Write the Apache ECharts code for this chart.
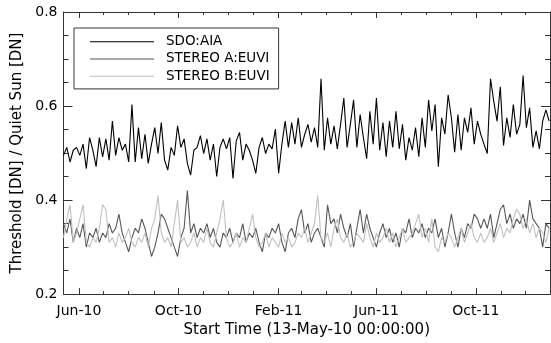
<!DOCTYPE html>
<html>
<head>
<meta charset="utf-8">
<script src="https://cdn.jsdelivr.net/npm/echarts@6/dist/echarts.min.js"></script>
<style>html,body{margin:0;padding:0;background:#fff}#c{width:551px;height:343px}</style>
</head>
<body>
<div id="c"></div>
<script>
// ---- data ----
const startDate = '2010-05-13';
const endDate = '2011-12-31';
const stepDays = 4;
const monthTicks = ['2010-06-01','2010-07-01','2010-08-01','2010-09-01','2010-10-01','2010-11-01','2010-12-01',
  '2011-01-01','2011-02-01','2011-03-01','2011-04-01','2011-05-01','2011-06-01','2011-07-01','2011-08-01',
  '2011-09-01','2011-10-01','2011-11-01','2011-12-01'];
const labelMonths = ['2010-06-01','2010-10-01','2011-02-01','2011-06-01','2011-10-01'];
const tickLabels = ['Jun-10','Oct-10','Feb-11','Jun-11','Oct-11'];
const seriesNames = ['SDO:AIA','STEREO A:EUVI','STEREO B:EUVI'];

const sdoAia = [
0.495,0.512,0.481,0.506,0.512,0.495,0.519,0.467,0.533,0.506,
0.471,0.533,0.492,0.530,0.485,0.568,0.495,0.533,0.506,0.519,
0.481,0.603,0.481,0.554,0.488,0.540,0.478,0.519,0.554,0.499,
0.565,0.485,0.464,0.512,0.495,0.558,0.512,0.530,0.478,0.453,
0.506,0.512,0.537,0.499,0.530,0.485,0.519,0.450,0.512,0.530,
0.509,0.533,0.446,0.526,0.544,0.485,0.519,0.506,0.485,0.457,
0.512,0.533,0.499,0.519,0.509,0.551,0.457,0.519,0.568,0.512,
0.565,0.519,0.575,0.512,0.540,0.561,0.523,0.554,0.512,0.658,
0.506,0.575,0.519,0.558,0.509,0.561,0.617,0.512,0.561,0.613,
0.512,0.582,0.533,0.488,0.589,0.519,0.617,0.506,0.565,0.492,
0.568,0.512,0.589,0.509,0.561,0.485,0.533,0.506,0.554,0.492,
0.575,0.512,0.613,0.547,0.603,0.471,0.575,0.540,0.624,0.575,
0.502,0.582,0.506,0.575,0.544,0.596,0.519,0.568,0.540,0.519,
0.499,0.658,0.610,0.568,0.641,0.516,0.575,0.533,0.603,0.540,
0.561,0.665,0.554,0.596,0.512,0.547,0.509,0.568,0.592,0.568
];
const stereoA = [
0.35,0.33,0.36,0.31,0.34,0.32,0.35,0.30,0.33,0.32,
0.34,0.31,0.33,0.32,0.35,0.33,0.34,0.37,0.33,0.31,
0.29,0.32,0.34,0.33,0.36,0.34,0.31,0.28,0.30,0.33,
0.37,0.36,0.34,0.32,0.30,0.28,0.32,0.34,0.42,0.33,
0.35,0.32,0.34,0.33,0.35,0.32,0.34,0.31,0.30,0.33,
0.32,0.34,0.31,0.33,0.32,0.35,0.31,0.33,0.32,0.34,
0.31,0.29,0.33,0.32,0.34,0.33,0.35,0.31,0.29,0.33,
0.34,0.32,0.36,0.38,0.33,0.35,0.31,0.33,0.34,0.32,
0.30,0.39,0.35,0.36,0.33,0.37,0.34,0.32,0.35,0.30,
0.34,0.38,0.33,0.37,0.34,0.32,0.30,0.33,0.35,0.32,
0.34,0.31,0.33,0.30,0.34,0.33,0.36,0.32,0.34,0.33,
0.35,0.32,0.34,0.33,0.36,0.32,0.34,0.30,0.33,0.37,
0.33,0.30,0.34,0.32,0.35,0.34,0.37,0.36,0.34,0.36,
0.34,0.37,0.32,0.35,0.38,0.39,0.35,0.37,0.34,0.36,
0.35,0.37,0.34,0.40,0.36,0.35,0.34,0.30,0.35,0.34
];
const stereoB = [
0.32,0.36,0.39,0.31,0.33,0.36,0.39,0.31,0.30,0.32,
0.31,0.34,0.39,0.38,0.31,0.32,0.30,0.33,0.31,0.32,
0.34,0.31,0.30,0.32,0.31,0.33,0.30,0.34,0.36,0.41,
0.33,0.31,0.32,0.30,0.35,0.40,0.31,0.32,0.30,0.31,
0.33,0.30,0.32,0.31,0.34,0.31,0.30,0.33,0.36,0.40,
0.32,0.30,0.31,0.33,0.30,0.32,0.31,0.34,0.37,0.32,
0.30,0.31,0.33,0.30,0.32,0.31,0.30,0.33,0.31,0.32,
0.30,0.31,0.33,0.32,0.34,0.31,0.33,0.35,0.41,0.32,
0.31,0.33,0.30,0.34,0.36,0.32,0.31,0.33,0.30,0.31,
0.33,0.32,0.31,0.35,0.32,0.30,0.33,0.31,0.32,0.34,
0.31,0.33,0.30,0.32,0.34,0.31,0.32,0.33,0.35,0.37,
0.32,0.34,0.31,0.36,0.30,0.29,0.32,0.31,0.33,0.32,
0.30,0.32,0.34,0.31,0.33,0.35,0.32,0.31,0.33,0.31,
0.32,0.34,0.31,0.33,0.35,0.32,0.34,0.33,0.36,0.38,
0.37,0.34,0.36,0.33,0.35,0.32,0.34,0.33,0.31,0.34
];

// ---- build ----
function toTs(s){ const p = s.split('-').map(Number); return Date.UTC(p[0], p[1]-1, p[2]); }
const DAY = 86400000;
const t0 = toTs(startDate), t1 = toTs(endDate);
function pair(arr){ return arr.map((v,i)=>[t0 + i*stepDays*DAY, v]); }
const monthTs = monthTicks.map(toTs);
const labelTs = labelMonths.map(toTs);

const FONT = 'DejaVu Sans';
const AX = '#333';
function xAx(pos, ticks, len, showLine, showLabel){
  return {
    type:'value', position:pos, min:t0, max:t1,
    splitLine:{show:false},
    axisLine:{show:showLine, lineStyle:{color:AX, width:1}},
    axisTick:{show:true, inside:true, length:len, customValues:ticks, lineStyle:{color:AX}},
    axisLabel: showLabel ? {
      show:true, customValues:labelTs, margin:10, color:'#000', fontFamily:FONT, fontSize:14,
      formatter:function(v){ const k = labelTs.indexOf(v); return k>=0 ? tickLabels[k] : ''; }
    } : {show:false}
  };
}
function yAx(pos, showLabel){
  return {
    type:'value', position:pos, min:0.2, max:0.8, interval:0.2,
    splitLine:{show:false},
    axisLine:{show:true, lineStyle:{color:AX, width:1}},
    axisTick:{show:true, inside:true, length:9, lineStyle:{color:AX}},
    minorTick:{show:true, splitNumber:4, length:5, lineStyle:{color:AX}},
    axisLabel: showLabel ? {show:true, margin:6, color:'#000', fontFamily:FONT, fontSize:14,
      formatter:function(v){ return v.toFixed(1); }} : {show:false}
  };
}

const xs = [
  Object.assign(xAx('bottom', monthTs, 3, true, true), {
    name:'Start Time (13-May-10 00:00:00)', nameLocation:'middle', nameGap:27,
    nameTextStyle:{color:'#000', fontFamily:FONT, fontSize:15}
  }),
  xAx('bottom', labelTs, 6, false, false),
  xAx('top', monthTs, 3, true, false),
  xAx('top', labelTs, 6, false, false)
];
const ys = [
  Object.assign(yAx('left', true), {
    name:'Threshold [DN] / Quiet Sun [DN]', nameLocation:'middle', nameGap:30,
    nameTextStyle:{color:'#000', fontFamily:FONT, fontSize:15}
  }),
  yAx('right', false)
];

const colors = ['#000000', '#575757', '#c0c0c0'];
const datasets = [sdoAia, stereoA, stereoB];

const chart = echarts.init(document.getElementById('c'), null, {renderer:'canvas'});
chart.setOption({
  animation:false,
  backgroundColor:'#fff',
  grid:{left:63.5, right:1, top:12, bottom:43, containLabel:false},
  legend:{
    orient:'vertical', left:74, top:28,
    padding:[5,9,4,16],
    borderColor:'#333', borderWidth:1, borderRadius:0,
    itemWidth:64, itemHeight:1, itemGap:0, icon:'rect',
    textStyle:{color:'#000', fontFamily:FONT, fontSize:13.5, lineHeight:17.3, padding:[0,0,0,7]},
    data:seriesNames
  },
  xAxis:xs,
  yAxis:ys,
  series: datasets.map((d,k)=>({
    name:seriesNames[k], type:'line', xAxisIndex:0, yAxisIndex:0,
    data:pair(d), showSymbol:false, symbol:'none', silent:true,
    color:colors[k],
    lineStyle:{color:colors[k], width:1.1},
    itemStyle:{color:colors[k]}
  }))
});
</script>
</body>
</html>
